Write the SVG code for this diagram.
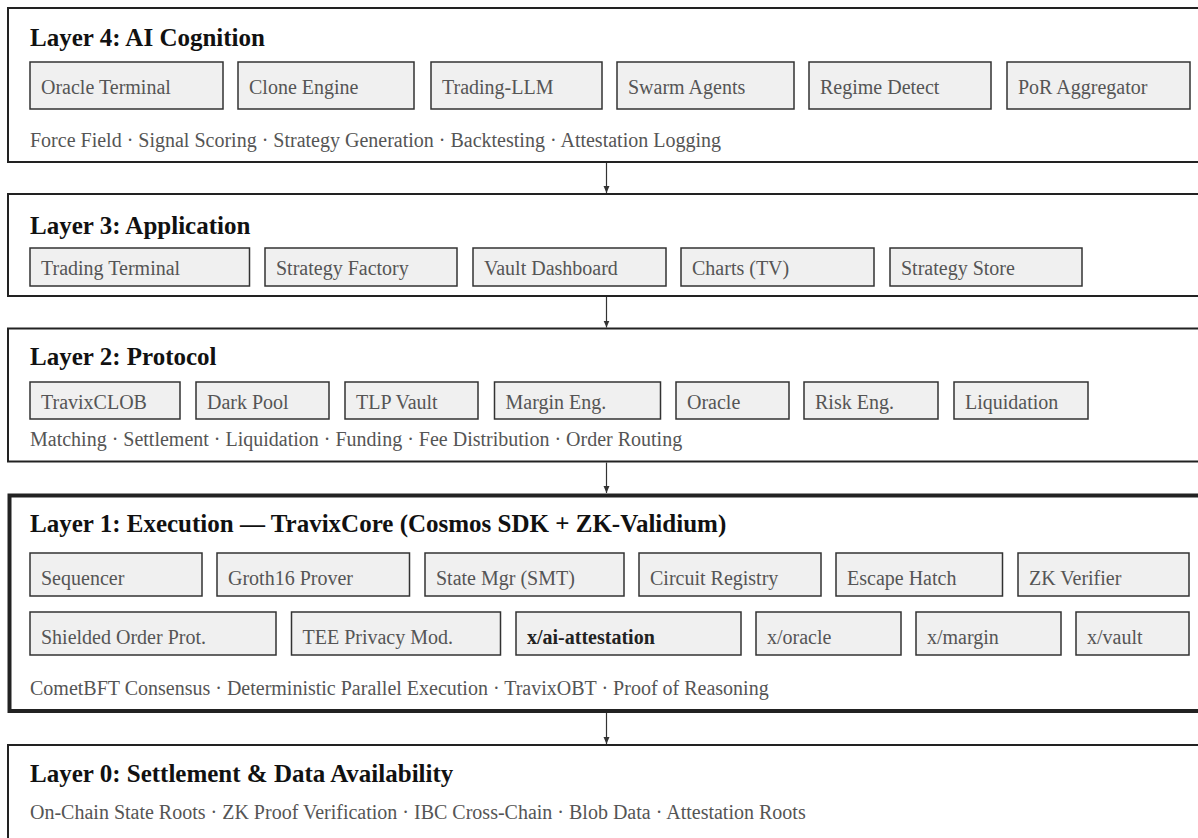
<svg xmlns="http://www.w3.org/2000/svg" width="1198" height="838" viewBox="0 0 1198 838">
<defs>
<marker id="arr" markerWidth="8" markerHeight="8" refX="7" refY="4" orient="auto" markerUnits="userSpaceOnUse"><path d="M0,1 L7,4 L0,7 z" fill="#333"/></marker>
</defs>
<style>
.layer{fill:#fff;stroke:#222;stroke-width:2}
.layer.main{stroke-width:4}
.title{font-family:"Liberation Serif","Times New Roman",serif;font-size:25px;font-weight:bold;fill:#111}
.node rect{fill:#f0f0f0;stroke:#333;stroke-width:1.5}
.node text{font-family:"Liberation Serif","Times New Roman",serif;font-size:20px;fill:#555}
.node text.b{font-weight:bold;fill:#222}
.sub{font-family:"Liberation Serif","Times New Roman",serif;font-size:20px;fill:#555}
.conn line{stroke:#333;stroke-width:1.2;marker-end:url(#arr)}
</style>

<g id="layer4">
<rect class="layer" x="8" y="8" width="1210" height="154"/>
<text class="title" x="30" y="46">Layer 4: AI Cognition</text>
<text class="sub" x="30" y="147">Force Field · Signal Scoring · Strategy Generation · Backtesting · Attestation Logging</text>
</g>
<g id="n-oracle-terminal" class="node"><rect x="30" y="62" width="193" height="47"/><text x="41" y="94">Oracle Terminal</text></g>
<g id="n-clone-engine" class="node"><rect x="238" y="62" width="176" height="47"/><text x="249" y="94">Clone Engine</text></g>
<g id="n-trading-llm" class="node"><rect x="431" y="62" width="171" height="47"/><text x="442" y="94">Trading-LLM</text></g>
<g id="n-swarm-agents" class="node"><rect x="617" y="62" width="177" height="47"/><text x="628" y="94">Swarm Agents</text></g>
<g id="n-regime-detect" class="node"><rect x="809" y="62" width="182" height="47"/><text x="820" y="94">Regime Detect</text></g>
<g id="n-por-aggregator" class="node"><rect x="1007" y="62" width="183" height="47"/><text x="1018" y="94">PoR Aggregator</text></g>

<g id="layer3">
<rect class="layer" x="8" y="194" width="1210" height="102"/>
<text class="title" x="30" y="234">Layer 3: Application</text>
</g>
<g id="n-trading-terminal" class="node"><rect x="30" y="248" width="219.5" height="38"/><text x="41" y="275">Trading Terminal</text></g>
<g id="n-strategy-factory" class="node"><rect x="265" y="248" width="192" height="38"/><text x="276" y="275">Strategy Factory</text></g>
<g id="n-vault-dashboard" class="node"><rect x="473" y="248" width="193" height="38"/><text x="484" y="275">Vault Dashboard</text></g>
<g id="n-charts-tv" class="node"><rect x="681" y="248" width="193" height="38"/><text x="692" y="275">Charts (TV)</text></g>
<g id="n-strategy-store" class="node"><rect x="890" y="248" width="192" height="38"/><text x="901" y="275">Strategy Store</text></g>

<g id="layer2">
<rect class="layer" x="8" y="328.5" width="1210" height="133"/>
<text class="title" x="30" y="365">Layer 2: Protocol</text>
<text class="sub" x="30" y="446">Matching · Settlement · Liquidation · Funding · Fee Distribution · Order Routing</text>
</g>
<g id="n-travixclob" class="node"><rect x="30" y="382" width="150" height="37"/><text x="41" y="409">TravixCLOB</text></g>
<g id="n-dark-pool" class="node"><rect x="196" y="382" width="133" height="37"/><text x="207" y="409">Dark Pool</text></g>
<g id="n-tlp-vault" class="node"><rect x="345" y="382" width="133" height="37"/><text x="356" y="409">TLP Vault</text></g>
<g id="n-margin-eng" class="node"><rect x="494.5" y="382" width="166" height="37"/><text x="505.5" y="409">Margin Eng.</text></g>
<g id="n-oracle" class="node"><rect x="676" y="382" width="113" height="37"/><text x="687" y="409">Oracle</text></g>
<g id="n-risk-eng" class="node"><rect x="804" y="382" width="134" height="37"/><text x="815" y="409">Risk Eng.</text></g>
<g id="n-liquidation" class="node"><rect x="954" y="382" width="134" height="37"/><text x="965" y="409">Liquidation</text></g>

<g id="layer1">
<rect class="layer main" x="9.5" y="495.5" width="1210" height="215.5"/>
<text class="title" x="30" y="532">Layer 1: Execution — TravixCore (Cosmos SDK + ZK-Validium)</text>
<text class="sub" x="30" y="695">CometBFT Consensus · Deterministic Parallel Execution · TravixOBT · Proof of Reasoning</text>
</g>
<g id="n-sequencer" class="node"><rect x="30" y="553" width="172" height="43"/><text x="41" y="585">Sequencer</text></g>
<g id="n-groth16-prover" class="node"><rect x="217" y="553" width="192.5" height="43"/><text x="228" y="585">Groth16 Prover</text></g>
<g id="n-state-mgr" class="node"><rect x="425" y="553" width="199" height="43"/><text x="436" y="585">State Mgr (SMT)</text></g>
<g id="n-circuit-registry" class="node"><rect x="639" y="553" width="182" height="43"/><text x="650" y="585">Circuit Registry</text></g>
<g id="n-escape-hatch" class="node"><rect x="836" y="553" width="166.5" height="43"/><text x="847" y="585">Escape Hatch</text></g>
<g id="n-zk-verifier" class="node"><rect x="1018" y="553" width="171" height="43"/><text x="1029" y="585">ZK Verifier</text></g>
<g id="n-shielded-order" class="node"><rect x="30" y="612" width="246" height="43"/><text x="41" y="644">Shielded Order Prot.</text></g>
<g id="n-tee-privacy" class="node"><rect x="291.5" y="612" width="209" height="43"/><text x="302.5" y="644">TEE Privacy Mod.</text></g>
<g id="n-x-ai-attestation" class="node"><rect x="516" y="612" width="225" height="43"/><text class="b" x="527" y="644">x/ai-attestation</text></g>
<g id="n-x-oracle" class="node"><rect x="756" y="612" width="145" height="43"/><text x="767" y="644">x/oracle</text></g>
<g id="n-x-margin" class="node"><rect x="916" y="612" width="145" height="43"/><text x="927" y="644">x/margin</text></g>
<g id="n-x-vault" class="node"><rect x="1076" y="612" width="113" height="43"/><text x="1087" y="644">x/vault</text></g>

<g id="layer0">
<rect class="layer" x="8" y="745" width="1210" height="120"/>
<text class="title" x="30" y="782">Layer 0: Settlement &amp; Data Availability</text>
<text class="sub" x="30" y="819">On-Chain State Roots · ZK Proof Verification · IBC Cross-Chain · Blob Data · Attestation Roots</text>
</g>

<g id="connectors" class="conn">
<line x1="606.5" y1="163" x2="606.5" y2="193"/>
<line x1="606.5" y1="297" x2="606.5" y2="327.5"/>
<line x1="606.5" y1="462.5" x2="606.5" y2="493"/>
<line x1="606.5" y1="713" x2="606.5" y2="744"/>
</g>
</svg>
